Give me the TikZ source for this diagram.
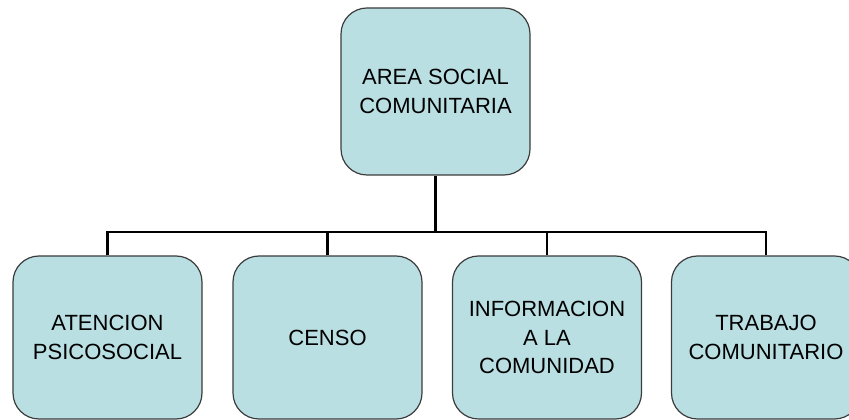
\documentclass[tikz,border=0pt]{standalone}
\usepackage{fontspec}
\setmainfont{Liberation Sans}
\definecolor{boxfill}{HTML}{B9DFE3}
\definecolor{boxline}{HTML}{3C3C3C}
\begin{document}
\begin{tikzpicture}[x=1pt,y=1pt,
  orgbox/.style={draw=boxline, line width=1.2pt, fill=boxfill, rounded corners=26pt,
    minimum width=189pt, align=center, inner sep=0pt,
    font=\fontsize{22}{28.5}\selectfont, text=black},
  link/.style={line width=2.6pt, black}]
\useasboundingbox (0,0) rectangle (849,420);
\node[orgbox, minimum height=167pt] (top) at (435.5,328.5) {AREA SOCIAL\\COMUNITARIA};
\node[orgbox, minimum height=163pt] (b1) at (107.5,82.5) {ATENCION\\PSICOSOCIAL};
\node[orgbox, minimum height=163pt] (b2) at (327.5,82.5) {CENSO};
\node[orgbox, minimum height=163pt] (b3) at (547,82.5) {INFORMACION\\A LA\\COMUNIDAD};
\node[orgbox, minimum height=163pt] (b4) at (766,82.5) {TRABAJO\\COMUNITARIO};
\coordinate (hub) at (435.5,188);
\draw[link] (top.south) -- (hub);
\draw[link] (b1.north) |- (hub);
\draw[link] (b2.north) |- (hub);
\draw[link] (b3.north) |- (hub);
\draw[link] (b4.north) |- (hub);
\end{tikzpicture}
\end{document}
